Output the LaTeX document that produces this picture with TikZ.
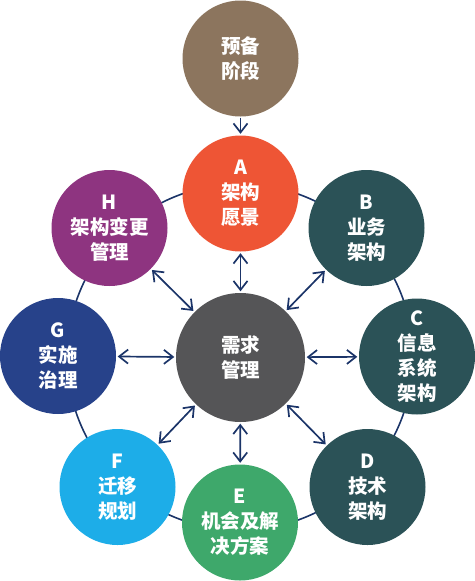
\documentclass[tikz,border=0pt]{standalone}
\usepackage{fontspec}
\setmainfont{Noto Sans CJK SC}
\usetikzlibrary{arrows.meta}
\definecolor{cprep}{HTML}{8C755E}
\definecolor{ca}{HTML}{EE5535}
\definecolor{ch}{HTML}{8E3480}
\definecolor{cteal}{HTML}{2B5257}
\definecolor{cg}{HTML}{27428A}
\definecolor{cf}{HTML}{1DADE8}
\definecolor{ce}{HTML}{3EA86B}
\definecolor{cctr}{HTML}{555557}
\definecolor{cline}{HTML}{1B3468}
\tikzset{
  phase/.style={circle, minimum size=116pt, inner sep=0pt, text=white, align=center,
    font=\fontsize{19.5pt}{25pt}\selectfont\bfseries},
  barb/.tip={Straight Barb[length=9pt,width=14pt]},
  arr/.style={draw=cline, line width=1.7pt, barb-barb, shorten >=1.5pt, shorten <=1.5pt},
  onearr/.style={draw=cline, line width=1.7pt, -barb, shorten >=1.5pt, shorten <=1pt},
  ring/.style={draw=cline, line width=1.6pt}
}
\begin{document}
\begin{tikzpicture}[x=1pt,y=-1pt]
\useasboundingbox (0,0) rectangle (474,581);
\coordinate (ringc) at (240,357);
\draw[ring] (ringc) circle[radius=173];
\node[phase, fill=cprep] (prep) at (240.5,58.5) {预备\\阶段};
\node[phase, fill=ca] (A) at (240.5,193.5) {A\\架构\\愿景};
\node[phase, fill=cteal] (B) at (366.5,228) {B\\业务\\架构};
\node[phase, fill=cteal] (C) at (417,356.5) {C\\信息\\系统\\架构};
\node[phase, fill=cteal] (D) at (367.5,487) {D\\技术\\架构};
\node[phase, fill=ce] (E) at (240,522.5) {E\\机会及解\\决方案};
\node[phase, fill=cf] (F) at (117.5,487) {F\\迁移\\规划};
\node[phase, fill=cg] (G) at (58,356) {G\\实施\\治理};
\node[phase, fill=ch] (H) at (109.5,228) {H\\架构变更\\管理};
\node[phase, fill=cctr, minimum size=129pt] (ctr) at (240.5,357.5) {需求\\管理};
\draw[onearr] (prep) -- (A);
\foreach \n in {A,B,C,D,E,F,G,H} {
  \draw[arr] (ctr) -- (\n);
}
\end{tikzpicture}
\end{document}
